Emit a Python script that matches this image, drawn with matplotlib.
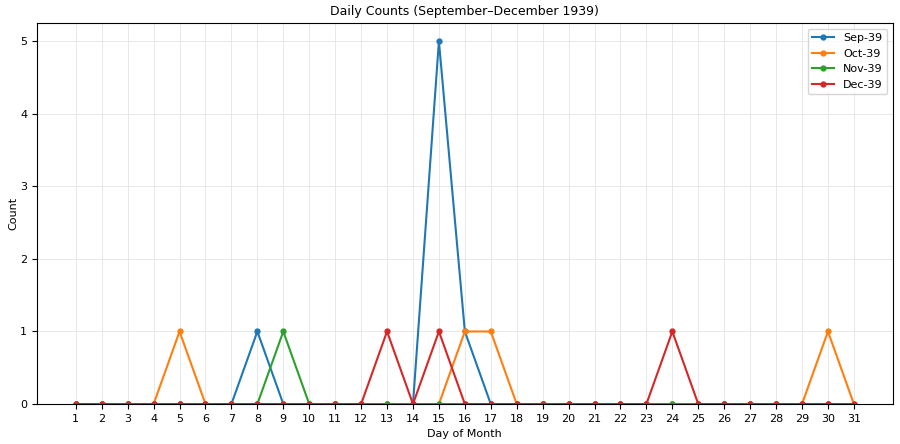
import matplotlib
matplotlib.use("Agg")
import matplotlib.pyplot as plt

SERIES_LABELS = ["Sep-39", "Oct-39", "Nov-39", "Dec-39"]
MONTH_DAYS = [30, 31, 30, 31]
# non-zero daily counts, all other days are 0
NONZERO = [
    {8: 1, 15: 5, 16: 1},
    {5: 1, 16: 1, 17: 1, 30: 1},
    {9: 1},
    {13: 1, 15: 1, 24: 1},
]
COLORS = ["#1f77b4", "#ff7f0e", "#2ca02c", "#d62728"]

fig, ax = plt.subplots(figsize=(9, 4.44), dpi=100)

for label, ndays, counts, color in zip(SERIES_LABELS, MONTH_DAYS, NONZERO, COLORS):
    days = list(range(1, ndays + 1))
    vals = [counts.get(d, 0) for d in days]
    ax.plot(days, vals, marker="o", markersize=3.5, linewidth=1.5,
            color=color, label=label)

ax.set_xticks(range(1, 32))
ax.set_xlim(-0.5, 32.5)
ax.set_ylim(0, 5.25)
ax.set_yticks(range(0, 6))
ax.tick_params(labelsize=8)
ax.grid(True, color="#e8e8e8", linewidth=0.7)
ax.set_axisbelow(True)
ax.set_title("Daily Counts (September\u2013December 1939)", fontsize=9)
ax.set_xlabel("Day of Month", fontsize=8)
ax.set_ylabel("Count", fontsize=8, labelpad=1)
ax.legend(loc="upper right", fontsize=8)

plt.subplots_adjust(left=0.041, right=0.992, top=0.948, bottom=0.09)
fig.savefig("out.png", dpi=100)
